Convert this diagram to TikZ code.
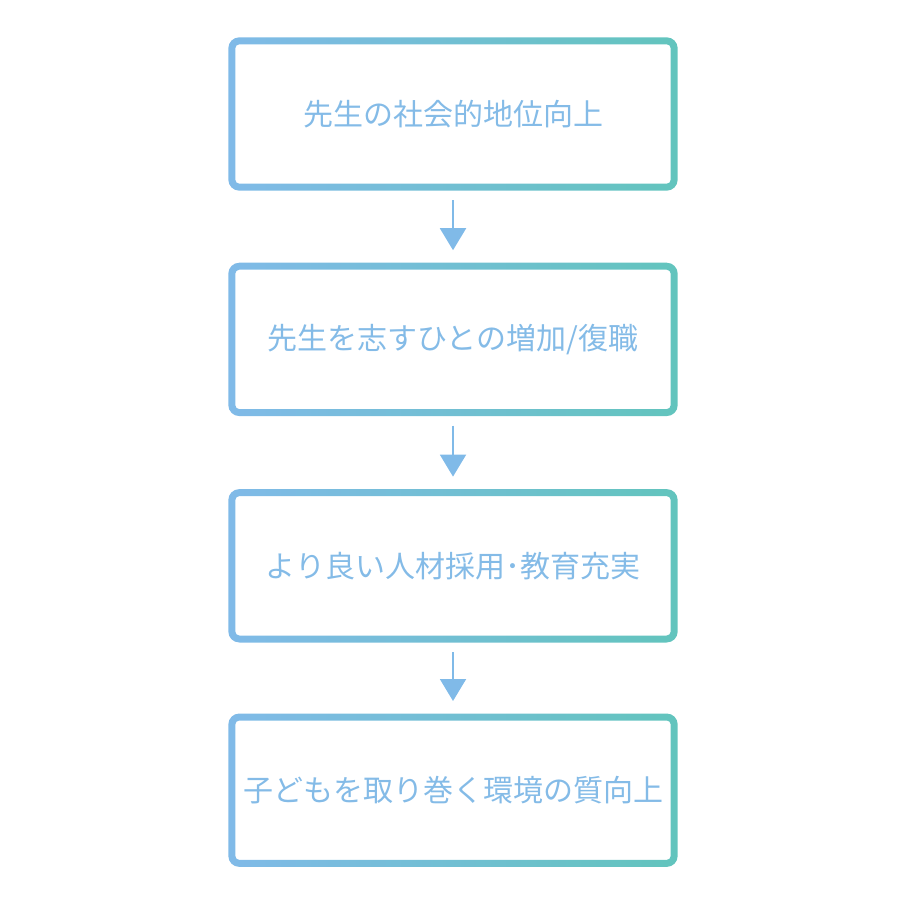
\documentclass[tikz,border=0pt]{standalone}
\usepackage{fontspec}
\newfontfamily\jpfont{Noto Sans CJK JP}
\usetikzlibrary{positioning,arrows.meta}
\definecolor{boxblue}{HTML}{80BAE8}
\definecolor{boxteal}{HTML}{62C4BD}
\definecolor{txtblue}{HTML}{84BBE7}
\begin{document}
\begin{tikzpicture}[x=1pt,y=-1pt,
  stepbox/.style={minimum width=442pt, minimum height=146pt, inner sep=0pt,
    text=txtblue, font=\jpfont\fontsize{30}{33}\selectfont},
  flow/.style={draw=boxblue, line width=2pt, shorten <=13pt, shorten >=16pt,
    -{Triangle[width=26pt,length=22pt]}}]
\useasboundingbox (0,0) rectangle (901,901);   % page frame
\node[stepbox] (b1) at (453,114) {先生の社会的地位向上};
\node[stepbox, below=79pt of b1] (b2) {先生を志すひとの増加/復職};
\node[stepbox, below=80pt of b2] (b3) {より良い人材採用･教育充実};
\node[stepbox, below=78pt of b3] (b4) {子どもを取り巻く環境の質向上};
% gradient frames
\foreach \b in {b1,b2,b3,b4}
  \shade[left color=boxblue, right color=boxteal, even odd rule]
    [rounded corners=11pt] ([shift={(-3.5,-3.5)}]\b.north west) rectangle ([shift={(3.5,3.5)}]\b.south east)
    [rounded corners=4pt] ([shift={(3.5,3.5)}]\b.north west) rectangle ([shift={(-3.5,-3.5)}]\b.south east);
\draw[flow] (b1) -- (b2);
\draw[flow] (b2) -- (b3);
\draw[flow] (b3) -- (b4);
\end{tikzpicture}
\end{document}
